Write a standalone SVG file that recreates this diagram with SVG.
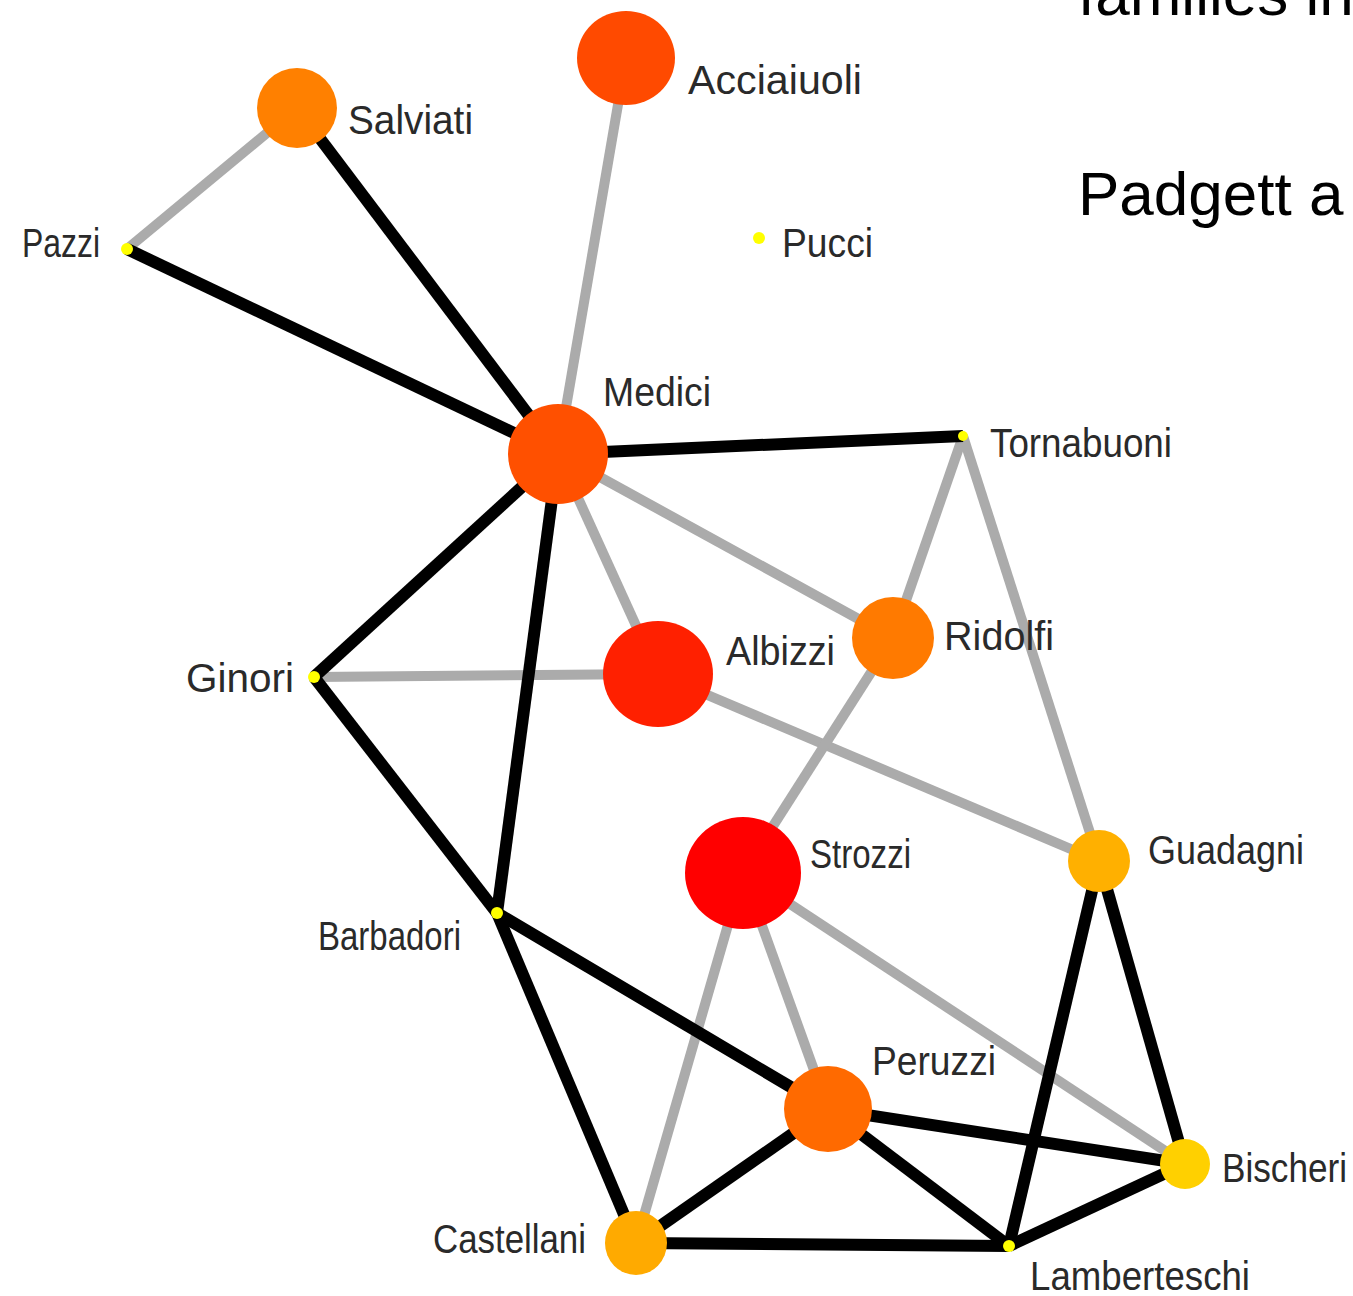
<svg xmlns="http://www.w3.org/2000/svg" width="1353" height="1296" viewBox="0 0 1353 1296">
  <style>
    .tie { stroke-linecap: butt; fill: none; }
    .marriage { stroke: #000000; stroke-width: 12; }
    .business { stroke: #ABABAB; stroke-width: 10; }
    .lbl { font-family: "Liberation Sans", Arial, sans-serif; fill: #2a2a2a; font-size: 40px; }
    .title { font-family: "Liberation Sans", Arial, sans-serif; fill: #000000; font-size: 62px; }
    .small { fill: #FFFF00; }
  </style>
  <rect width="1353" height="1296" fill="#FFFFFF"/>

  <text class="title" x="1078" y="15">families in</text>
  <text class="title" x="1078" y="215">Padgett a</text>

  <g id="connectors" class="tie">
    <!-- business ties -->
    <line class="business" x1="297" y1="108" x2="127" y2="249"/>
    <line class="business" x1="626" y1="58" x2="558" y2="454"/>
    <line class="business" x1="558" y1="454" x2="658" y2="674"/>
    <line class="business" x1="558" y1="454" x2="893" y2="638"/>
    <line class="business" x1="314" y1="677" x2="658" y2="674"/>
    <line class="business" x1="658" y1="674" x2="1099" y2="861"/>
    <line class="business" x1="963" y1="436" x2="893" y2="638"/>
    <line class="business" x1="963" y1="436" x2="1099" y2="861"/>
    <line class="business" x1="893" y1="638" x2="743" y2="873"/>
    <line class="business" x1="743" y1="873" x2="636" y2="1243"/>
    <line class="business" x1="743" y1="873" x2="828" y2="1109"/>
    <line class="business" x1="743" y1="873" x2="1185" y2="1164"/>
    <!-- marriage ties -->
    <line class="marriage" x1="297" y1="108" x2="558" y2="454"/>
    <line class="marriage" x1="127" y1="249" x2="558" y2="454"/>
    <line class="marriage" x1="558" y1="454" x2="963" y2="436" stroke-width="14"/>
    <line class="marriage" x1="558" y1="454" x2="314" y2="677"/>
    <line class="marriage" x1="558" y1="454" x2="497" y2="913"/>
    <line class="marriage" x1="314" y1="677" x2="497" y2="913"/>
    <line class="marriage" x1="497" y1="913" x2="636" y2="1243"/>
    <line class="marriage" x1="497" y1="913" x2="828" y2="1109"/>
    <line class="marriage" x1="828" y1="1109" x2="636" y2="1243"/>
    <line class="marriage" x1="828" y1="1109" x2="1185" y2="1164"/>
    <line class="marriage" x1="828" y1="1109" x2="1009" y2="1246"/>
    <line class="marriage" x1="636" y1="1243" x2="1009" y2="1246" stroke-width="14"/>
    <line class="marriage" x1="1099" y1="861" x2="1009" y2="1246"/>
    <line class="marriage" x1="1099" y1="861" x2="1185" y2="1164"/>
    <line class="marriage" x1="1185" y1="1164" x2="1009" y2="1246"/>
  </g>

  <g id="acciaiuoli"><ellipse cx="626" cy="58" rx="49" ry="47" fill="#FF4A00"/><text class="lbl" x="688" y="94" textLength="174" lengthAdjust="spacingAndGlyphs">Acciaiuoli</text></g>
  <g id="salviati"><circle cx="297" cy="108" r="40" fill="#FF8000"/><text class="lbl" x="348" y="134" font-size="44" textLength="125" lengthAdjust="spacingAndGlyphs">Salviati</text></g>
  <g id="pazzi"><circle class="small" cx="127" cy="249" r="6"/><text class="lbl" x="22" y="257" textLength="78" lengthAdjust="spacingAndGlyphs">Pazzi</text></g>
  <g id="pucci"><circle class="small" cx="759" cy="238" r="6"/><text class="lbl" x="782" y="257" textLength="91" lengthAdjust="spacingAndGlyphs">Pucci</text></g>
  <g id="medici"><circle cx="558" cy="454" r="50" fill="#FF5000"/><text class="lbl" x="603" y="406" font-size="36" textLength="108" lengthAdjust="spacingAndGlyphs">Medici</text></g>
  <g id="tornabuoni"><circle class="small" cx="963" cy="436" r="5"/><text class="lbl" x="990" y="457" textLength="182" lengthAdjust="spacingAndGlyphs">Tornabuoni</text></g>
  <g id="albizzi"><ellipse cx="658" cy="674" rx="55" ry="53" fill="#FF2000"/><text class="lbl" x="726" y="665" font-size="36" textLength="109" lengthAdjust="spacingAndGlyphs">Albizzi</text></g>
  <g id="ridolfi"><circle cx="893" cy="638" r="41" fill="#FF7A00"/><text class="lbl" x="944" y="650" font-size="38" textLength="110" lengthAdjust="spacingAndGlyphs">Ridolfi</text></g>
  <g id="ginori"><circle class="small" cx="314" cy="677" r="6"/><text class="lbl" x="186" y="692" font-size="36" textLength="108" lengthAdjust="spacingAndGlyphs">Ginori</text></g>
  <g id="strozzi"><ellipse cx="743" cy="873" rx="58" ry="56" fill="#FF0000"/><text class="lbl" x="810" y="868" font-size="36" textLength="101" lengthAdjust="spacingAndGlyphs">Strozzi</text></g>
  <g id="guadagni"><circle cx="1099" cy="861" r="31" fill="#FFB000"/><text class="lbl" x="1148" y="864" font-size="37" textLength="156" lengthAdjust="spacingAndGlyphs">Guadagni</text></g>
  <g id="barbadori"><circle class="small" cx="497" cy="913" r="6"/><text class="lbl" x="318" y="950" font-size="42" textLength="143" lengthAdjust="spacingAndGlyphs">Barbadori</text></g>
  <g id="peruzzi"><ellipse cx="828" cy="1109" rx="44" ry="43" fill="#FF6A00"/><text class="lbl" x="872" y="1075" font-size="36" textLength="124" lengthAdjust="spacingAndGlyphs">Peruzzi</text></g>
  <g id="bischeri"><circle cx="1185" cy="1164" r="25" fill="#FFD000"/><text class="lbl" x="1222" y="1182" font-size="42" textLength="125" lengthAdjust="spacingAndGlyphs">Bischeri</text></g>
  <g id="castellani"><ellipse cx="636" cy="1243" rx="31" ry="32" fill="#FFAA00"/><text class="lbl" x="433" y="1253" font-size="44" textLength="153" lengthAdjust="spacingAndGlyphs">Castellani</text></g>
  <g id="lamberteschi"><circle class="small" cx="1009" cy="1246" r="6"/><text class="lbl" x="1030" y="1290" font-size="44" textLength="220" lengthAdjust="spacingAndGlyphs">Lamberteschi</text></g>
</svg>
